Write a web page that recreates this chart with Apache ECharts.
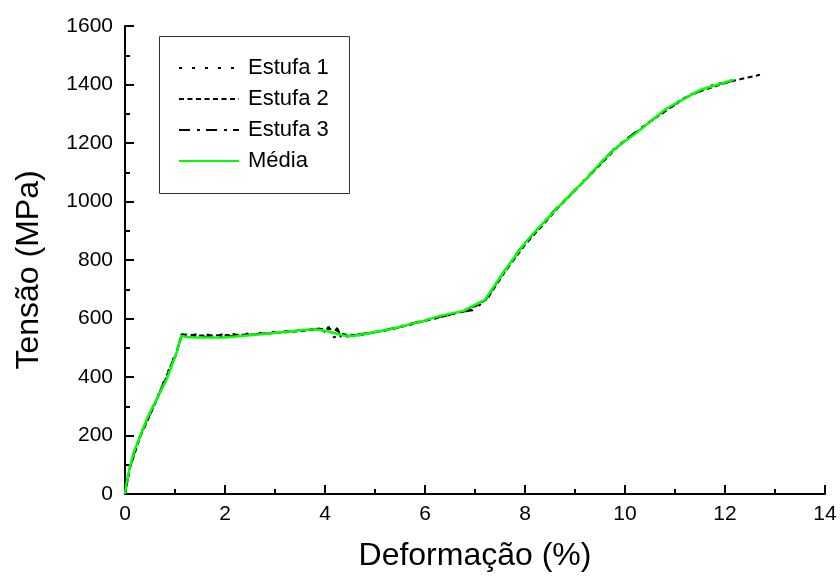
<!DOCTYPE html>
<html>
<head>
<meta charset="utf-8">
<script src="https://cdn.jsdelivr.net/npm/echarts@6/dist/echarts.min.js"></script>
<style>
html,body{margin:0;padding:0;background:#fff;}
#chart{width:840px;height:578px;}
</style>
</head>
<body>
<div id="chart"></div>
<script>
const seriesNames = ['Estufa 1', 'Estufa 2', 'Estufa 3', 'Média'];

const estufa1 = [[0,0],[0.1,95],[0.3,200],[0.63,325],[1.03,488],[1.13,545],[1.2,548],[1.5,544],[2,545],[2.5,548],[3.1,555],[3.6,562],[3.9,565],[4.05,548],[4.1,535],[4.3,538],[4.6,540],[5.3,562],[6,592],[6.8,625],[7.2,662],[7.6,762],[8,855],[8.6,970],[9.2,1075],[9.8,1180],[10.5,1272],[11.2,1355],[11.8,1400],[12.1,1412]];

const estufa2 = [[0,0],[0.1,90],[0.3,193],[0.63,320],[1.03,480],[1.12,542],[1.2,545],[1.5,542],[2,543],[2.6,546],[3.2,553],[3.7,560],[4.0,566],[4.2,562],[4.4,545],[4.7,543],[5.4,566],[6.1,596],[6.9,630],[7.25,668],[7.6,760],[8,852],[8.7,985],[9.3,1090],[9.9,1195],[10.6,1285],[11.3,1365],[12,1405],[12.35,1420],[12.7,1433]];

const estufa3 = [[0,0],[0.1,92],[0.3,198],[0.63,322],[1.03,485],[1.14,543],[1.2,544],[1.5,538],[2,538],[2.5,545],[3.1,553],[3.6,561],[3.95,567],[4.15,571],[4.25,565],[4.32,535],[4.5,541],[5.2,560],[5.9,590],[6.7,622],[6.95,628],[7.2,660],[7.55,752],[7.9,838],[8.6,972],[9.2,1074],[9.8,1183],[10.4,1262],[11.1,1345],[11.7,1395],[12.2,1413]];

const media = [[0,0],[0.03,38],[0.1,93],[0.17,140],[0.3,196],[0.43,254],[0.63,323],[0.83,391],[1.03,483],[1.13,540],[1.17,546],[1.25,537],[1.43,535],[1.97,535],[2.5,543],[3.1,552],[3.5,560],[3.8,563],[4.03,557],[4.37,542],[4.57,540],[5.3,563],[5.97,592],[6.3,609],[6.77,626],[7.03,649],[7.2,664],[7.57,758],[7.93,843],[8.1,878],[8.63,975],[9.23,1078],[9.5,1130],[9.8,1181],[10.17,1227],[10.83,1318],[11.5,1381],[12.17,1416]];

const xTicks = { min: 0, max: 14, interval: 2 };
const yTicks = { min: 0, max: 1600, interval: 200 };

const font = 'Liberation Sans, Arial, sans-serif';
const chart = echarts.init(document.getElementById('chart'), null, {renderer: 'canvas'});

function blackLine(name, data, dash) {
  return {
    name: name, type: 'line', data: data, symbol: 'none', smooth: false,
    lineStyle: { color: '#000', width: 2, type: dash },
    itemStyle: { color: '#000' },
    z: 2, animation: false
  };
}

chart.setOption({
  animation: false,
  backgroundColor: '#fff',
  grid: { left: 125, right: 15, top: 26, bottom: 84, containLabel: false },
  graphic: [{
    type: 'rect', left: 159, top: 36, z: 0,
    shape: { width: 190, height: 157 },
    style: { fill: '#fff', stroke: '#333', lineWidth: 1 }
  }],
  legend: {
    orient: 'vertical', left: 178, top: 57, padding: 0,
    itemWidth: 60, itemHeight: 14, itemGap: 9,
    data: seriesNames,
    itemStyle: { opacity: 0 },
    textStyle: { fontFamily: font, fontSize: 22, color: '#000', padding: [0,0,0,4], lineHeight: 22 },
    z: 5
  },
  xAxis: {
    type: 'value', min: xTicks.min, max: xTicks.max, interval: xTicks.interval,
    name: 'Deformação (%)', nameLocation: 'middle', nameGap: 46,
    nameTextStyle: { fontFamily: font, fontSize: 32, color: '#000' },
    axisLine: { show: true, onZero: false, lineStyle: { color: '#000', width: 2 } },
    axisTick: { show: true, inside: true, length: 9, lineStyle: { color: '#000', width: 2 } },
    minorTick: { show: true, splitNumber: 2, length: 5, lineStyle: { color: '#000', width: 2 } },
    axisLabel: { fontFamily: font, fontSize: 21, color: '#000', margin: 10, formatter: v => String(v) },
    splitLine: { show: false }
  },
  yAxis: {
    type: 'value', min: yTicks.min, max: yTicks.max, interval: yTicks.interval,
    name: 'Tensão (MPa)', nameLocation: 'middle', nameGap: 80,
    nameTextStyle: { fontFamily: font, fontSize: 32, color: '#000', padding: [0, 20, 0, 0] },
    axisLine: { show: true, onZero: false, lineStyle: { color: '#000', width: 2 } },
    axisTick: { show: true, inside: true, length: 9, lineStyle: { color: '#000', width: 2 } },
    minorTick: { show: true, splitNumber: 2, length: 5, lineStyle: { color: '#000', width: 2 } },
    axisLabel: { fontFamily: font, fontSize: 21, color: '#000', margin: 12, formatter: v => String(v) },
    splitLine: { show: false }
  },
  series: [
    blackLine(seriesNames[0], estufa1, [3, 10]),
    blackLine(seriesNames[1], estufa2, [5, 3.5]),
    blackLine(seriesNames[2], estufa3, [11, 7, 3, 6]),
    {
      name: seriesNames[3], type: 'line', data: media, symbol: 'none',
      lineStyle: { color: '#00ff00', width: 2.5, type: 'solid' },
      itemStyle: { color: '#00ff00' },
      z: 3, animation: false
    }
  ]
});
</script>
</body>
</html>
